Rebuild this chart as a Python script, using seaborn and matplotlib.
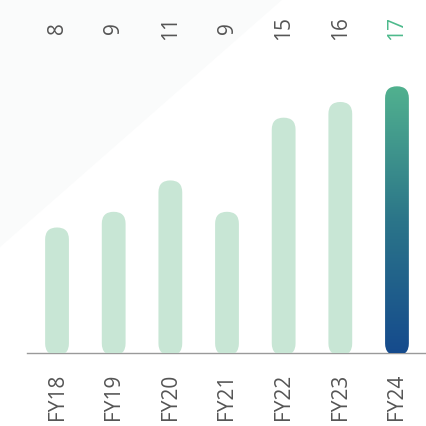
import numpy as np
import pandas as pd
import matplotlib
matplotlib.use("Agg")
import matplotlib.pyplot as plt
import seaborn as sns
from matplotlib.patches import FancyBboxPatch, Polygon
from matplotlib.colors import LinearSegmentedColormap

# данные
years = ["FY18", "FY19", "FY20", "FY21", "FY22", "FY23", "FY24"]
values = [8, 9, 11, 9, 15, 16, 17]

light = "#c8e6d5"
text_gray = "#555555"
accent = "#4dba8c"
grad = LinearSegmentedColormap.from_list("g", ["#154a8d", "#2b7589", "#51b18f"])

sns.set_theme(style="white")
plt.rcParams['font.family'] = ['Open Sans', 'DejaVu Sans']

W, H = 427, 426
fig = plt.figure(figsize=(W / 100, H / 100), dpi=100)
fig.patch.set_facecolor("white")
# едва заметный фон в левом верхнем углу
fig.patches.append(Polygon([[0, 1], [0.66, 1], [0, 0.42]], closed=True,
                           transform=fig.transFigure, facecolor="#fafbfb",
                           edgecolor="none", zorder=-10))

ax = fig.add_axes([27 / W, 73 / H, 400 / W, 353 / H])
ax.patch.set_alpha(0)

df = pd.DataFrame({"year": years, "value": values})
sns.barplot(data=df, x="year", y="value", ax=ax, width=0.42, color=light)

x_lo, x_hi = -0.53, 6.53
y_hi = 22.5
ax.set_xlim(x_lo, x_hi)
ax.set_ylim(0, y_hi)

px_x = 400 / (x_hi - x_lo)
px_y = 353 / y_hi
aspect = px_x / px_y

bars = list(ax.patches)
for i, p in enumerate(bars):
    x0, w, h = p.get_x(), p.get_width(), p.get_height()
    p.remove()
    r = w / 2
    fb = FancyBboxPatch((x0, -0.15), w, h + 0.15,
                        boxstyle=f"round,pad=0,rounding_size={r}",
                        mutation_aspect=aspect,
                        facecolor=light, edgecolor="none", zorder=2)
    ax.add_patch(fb)
    if i == len(bars) - 1:
        fb.set_facecolor("none")
        img = ax.imshow(np.linspace(0, 1, 256).reshape(-1, 1), cmap=grad,
                        origin="lower", aspect="auto",
                        extent=(x0, x0 + w, -0.15, h), zorder=3)
        img.set_clip_path(fb)
    ax.text(i, 20.7, str(values[i]), rotation=90, ha="center", va="center",
            fontsize=15, color=accent if i == len(bars) - 1 else text_gray)

ax.set_xlabel("")
ax.set_ylabel("")
ax.set_yticks([])
ax.tick_params(axis="x", length=0, pad=15, labelsize=15, labelcolor=text_gray)
for lbl in ax.get_xticklabels():
    lbl.set_rotation(90)
for s in ["top", "right", "left"]:
    ax.spines[s].set_visible(False)
ax.spines["bottom"].set_color("#9a9a9a")
ax.spines["bottom"].set_linewidth(1)
ax.spines["bottom"].set_zorder(1)

fig.savefig("out.png", dpi=100)
